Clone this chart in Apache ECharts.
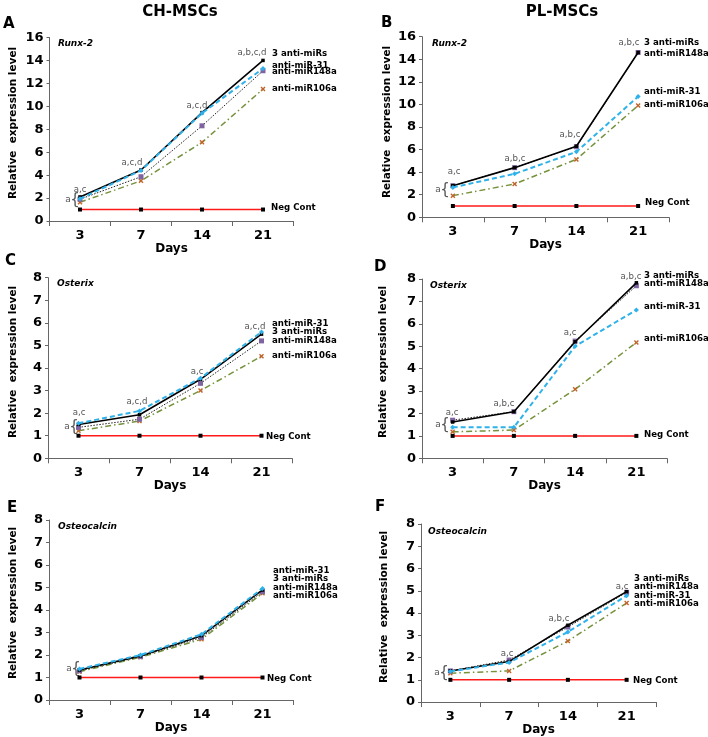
<!DOCTYPE html>
<html><head><meta charset="utf-8">
<script src="https://cdn.jsdelivr.net/npm/echarts@6/dist/echarts.min.js"></script>
<style>html,body{margin:0;padding:0;background:#fff}#c{width:708px;height:737px}</style>
</head><body><div id="c"></div>
<script>
// ---- data ----
const days = ['3', '7', '14', '21'];
const seriesNames = ['Neg Cont', 'anti-miR106a', 'anti-miR148a', '3 anti-miRs', 'anti-miR-31'];

// Panel A: CH-MSCs Runx-2
const A_neg = [1, 1, 1, 1];
const A_three = [2.1, 4.45, 9.45, 14.0];
const A_m31 = [1.95, 4.4, 9.4, 13.3];
const A_m148 = [1.9, 3.86, 8.3, 13.1];
const A_m106 = [1.63, 3.5, 6.86, 11.5];
// Panel B: PL-MSCs Runx-2
const B_neg = [1, 1, 1, 1];
const B_three = [2.8, 4.4, 6.3, 14.6];
const B_m31 = [2.65, 3.85, 5.8, 10.7];
const B_m148 = [2.8, 4.4, 6.25, 14.6];
const B_m106 = [1.92, 2.95, 5.13, 9.9];
// Panel C: CH-MSCs Osterix
const C_neg = [1, 1, 1, 1];
const C_three = [1.5, 1.93, 3.5, 5.5];
const C_m31 = [1.55, 2.1, 3.55, 5.6];
const C_m148 = [1.37, 1.73, 3.32, 5.2];
const C_m106 = [1.22, 1.65, 3.0, 4.52];
// Panel D: PL-MSCs Osterix
const D_neg = [1, 1, 1, 1];
const D_three = [1.62, 2.08, 5.2, 7.83];
const D_m31 = [1.38, 1.38, 5.0, 6.62];
const D_m148 = [1.7, 2.08, 5.23, 7.7];
const D_m106 = [1.18, 1.26, 3.08, 5.17];
// Panel E: CH-MSCs Osteocalcin
const E_neg = [1, 1, 1, 1];
const E_three = [1.33, 1.96, 2.86, 4.89];
const E_m31 = [1.38, 2.0, 2.92, 4.96];
const E_m148 = [1.3, 1.93, 2.78, 4.81];
const E_m106 = [1.26, 1.9, 2.7, 4.74];
// Panel F: PL-MSCs Osteocalcin
const F_neg = [1, 1, 1, 1];
const F_three = [1.4, 1.82, 3.45, 4.96];
const F_m31 = [1.38, 1.78, 3.15, 4.78];
const F_m148 = [1.4, 1.89, 3.37, 4.93];
const F_m106 = [1.3, 1.4, 2.74, 4.45];

const yMax = [16, 16, 8, 8, 8, 8];
const yStep = [2, 2, 1, 1, 1, 1];
const panelLetters = ['A', 'B', 'C', 'D', 'E', 'F'];
const genes = ['Runx-2', 'Runx-2', 'Osterix', 'Osterix', 'Osteocalcin', 'Osteocalcin'];
const columnTitles = ['CH-MSCs', 'PL-MSCs'];
const yTitle = 'Relative  expression level';
const xTitle = 'Days';

// right-side labels (top to bottom) per panel
const A_labels = ['3 anti-miRs', 'anti-miR-31', 'anti-miR148a', 'anti-miR106a'];
const B_labels = ['3 anti-miRs', 'anti-miR148a', 'anti-miR-31', 'anti-miR106a'];
const C_labels = ['anti-miR-31', '3 anti-miRs', 'anti-miR148a', 'anti-miR106a'];
const D_labels = ['3 anti-miRs', 'anti-miR148a', 'anti-miR-31', 'anti-miR106a'];
const E_labels = ['anti-miR-31', '3 anti-miRs', 'anti-miR148a', 'anti-miR106a'];
const F_labels = ['3 anti-miRs', 'anti-miR148a', 'anti-miR-31', 'anti-miR106a'];
// significance annotations per panel (per day)
const A_sig = ['a,c', 'a,c,d', 'a,c,d', 'a,b,c,d'];
const B_sig = ['a,c', 'a,b,c', 'a,b,c', 'a,b,c'];
const C_sig = ['a,c', 'a,c,d', 'a,c', 'a,c,d'];
const D_sig = ['a,c', 'a,b,c', 'a,c', 'a,b,c'];
const E_sig = ['', '', '', ''];
const F_sig = ['', 'a,c', 'a,b,c', 'a,c'];

// ---- layout ----
const panels = [
  {d: [A_neg, A_m106, A_m148, A_three, A_m31], lab: A_labels, sig: A_sig},
  {d: [B_neg, B_m106, B_m148, B_three, B_m31], lab: B_labels, sig: B_sig},
  {d: [C_neg, C_m106, C_m148, C_three, C_m31], lab: C_labels, sig: C_sig},
  {d: [D_neg, D_m106, D_m148, D_three, D_m31], lab: D_labels, sig: D_sig},
  {d: [E_neg, E_m106, E_m148, E_three, E_m31], lab: E_labels, sig: E_sig},
  {d: [F_neg, F_m106, F_m148, F_three, F_m31], lab: F_labels, sig: F_sig}
];
const grids = [
  {left: 49.5, top: 37.5, width: 244, height: 183.5},
  {left: 422, top: 36.7, width: 247, height: 180.6},
  {left: 48, top: 277.7, width: 244, height: 180.6},
  {left: 422, top: 279, width: 245, height: 179.3},
  {left: 49, top: 520, width: 244, height: 180},
  {left: 421, top: 524, width: 235, height: 180.3}
];
const rightLabelPos = [
  {x: 272, ys: [54, 66, 72, 89], nx: 271, ny: 208},
  {x: 644, ys: [43, 54, 92, 105], nx: 645, ny: 203},
  {x: 272, ys: [324, 332, 341, 356], nx: 266, ny: 437},
  {x: 644, ys: [276, 284, 307, 339], nx: 644, ny: 435},
  {x: 273, ys: [571, 579, 588, 596], nx: 267, ny: 679},
  {x: 634, ys: [579, 587, 596, 604], nx: 633, ny: 681}
];
const sigPos = [
  [[80, 190], [132, 163], [197, 106], [252, 53]],
  [[454, 172], [515, 159], [570, 135], [629, 43]],
  [[79, 413], [137, 402], [197, 372], [255, 327]],
  [[452, 413], [504, 404], [570, 333], [631, 277]],
  [[0, 0], [0, 0], [0, 0], [0, 0]],
  [[0, 0], [507, 654], [559, 619], [622, 587]]
];
const bracePos = [[71, 200], [441, 190], [70, 427], [441, 425], [72, 669], [440, 673]];
const letterPos = [[3, 24], [381, 23], [5, 261], [374, 267], [7, 508], [375, 507]];
const genePos = [[58, 44], [432, 44], [57, 284], [430, 286], [58, 527], [428, 532]];
const yTitlePos = [[13, 123], [387, 122], [13, 362], [383, 362], [13, 603], [384, 607]];
const daysY = [245, 241, 483, 482, 725, 728];

const FONT = '"DejaVu Sans", Verdana, sans-serif';
const xSym = 'path://M2,0 L5,3 L8,0 L10,2 L7,5 L10,8 L8,10 L5,7 L2,10 L0,8 L3,5 L0,2 Z';
const styles = [
  {line: {color: '#ff1a1a', width: 1.5, type: 'solid'}, sym: 'rect', size: 4, mc: '#000'},
  {line: {color: '#76923c', width: 1.5, type: [6, 3, 1.5, 3]}, sym: xSym, size: 5, mc: '#c0652a'},
  {line: {color: '#222', width: 1, type: [1.5, 1.5]}, sym: 'rect', size: 5, mc: '#8064a2'},
  {line: {color: '#000', width: 1.6, type: 'solid'}, sym: 'rect', size: 3.5, mc: '#000'},
  {line: {color: '#2fb2ea', width: 2, type: [5, 3]}, sym: 'diamond', size: 5, mc: '#2fb2ea'}
];

const option = {
  animation: false,
  backgroundColor: '#fff',
  grid: grids.map(g => Object.assign({containLabel: false}, g)),
  xAxis: grids.map((g, i) => ({
    gridIndex: i, type: 'category', data: days, boundaryGap: true,
    axisLine: {lineStyle: {color: '#666', width: 1}},
    axisTick: {show: true, interval: 0, length: 5, lineStyle: {color: '#666'}},
    axisLabel: {color: '#000', fontFamily: FONT, fontWeight: 'bold', fontSize: 13, margin: 8},
    name: xTitle, nameLocation: 'middle', nameGap: daysY[i] - (g.top + g.height),
    nameTextStyle: {color: '#000', fontFamily: FONT, fontWeight: 'bold', fontSize: 12, verticalAlign: 'middle'},
    splitLine: {show: false}
  })),
  yAxis: grids.map((g, i) => ({
    gridIndex: i, type: 'value', min: 0, max: yMax[i], interval: yStep[i],
    axisLine: {show: true, lineStyle: {color: '#666', width: 1}},
    axisTick: {show: true, length: 3, lineStyle: {color: '#666'}},
    axisLabel: {color: '#000', fontFamily: FONT, fontWeight: 'bold', fontSize: 13, margin: 6},
    splitLine: {show: false}
  })),
  series: [],
  graphic: []
};

panels.forEach((p, i) => {
  p.d.forEach((arr, k) => {
    const s = styles[k];
    option.series.push({
      type: 'line', name: seriesNames[k], xAxisIndex: i, yAxisIndex: i, data: arr,
      symbol: s.sym, symbolSize: s.size, showSymbol: true,
      itemStyle: {color: s.mc, borderWidth: 0},
      lineStyle: s.line, z: 2 + k
    });
  });
  const G = option.graphic;
  const rp = rightLabelPos[i];
  p.lab.forEach((t, j) => {
    G.push({type: 'text', x: rp.x, y: rp.ys[j], style: {text: t, font: 'bold 8.6px ' + FONT, fill: '#000', align: 'left', verticalAlign: 'middle'}});
  });
  G.push({type: 'text', x: rp.nx, y: rp.ny, style: {text: seriesNames[0], font: 'bold 8.6px ' + FONT, fill: '#000', align: 'left', verticalAlign: 'middle'}});
  p.sig.forEach((t, j) => {
    if (!t) return;
    G.push({type: 'text', x: sigPos[i][j][0], y: sigPos[i][j][1], style: {text: t, font: '8.6px ' + FONT, fill: '#555', align: 'center', verticalAlign: 'middle'}});
  });
  G.push({type: 'text', x: bracePos[i][0] - 3, y: bracePos[i][1], style: {text: 'a', font: '9px ' + FONT, fill: '#555', align: 'center', verticalAlign: 'middle'}});
  G.push({type: 'text', x: bracePos[i][0] + 4, y: bracePos[i][1], style: {text: '{', font: '15px ' + FONT, fill: '#555', align: 'center', verticalAlign: 'middle'}});
  G.push({type: 'text', x: letterPos[i][0], y: letterPos[i][1], style: {text: panelLetters[i], font: 'bold 15px ' + FONT, fill: '#000', align: 'left', verticalAlign: 'middle'}});
  G.push({type: 'text', x: genePos[i][0], y: genePos[i][1], style: {text: genes[i], font: 'italic bold 9px ' + FONT, fill: '#000', align: 'left', verticalAlign: 'middle'}});
  G.push({type: 'text', x: yTitlePos[i][0], y: yTitlePos[i][1], rotation: Math.PI / 2, style: {text: yTitle, font: 'bold 10.5px ' + FONT, fill: '#000', align: 'center', verticalAlign: 'middle'}});
});
option.graphic.push({type: 'text', x: 180, y: 12, style: {text: columnTitles[0], font: 'bold 15px ' + FONT, fill: '#000', align: 'center', verticalAlign: 'middle'}});
option.graphic.push({type: 'text', x: 562, y: 12, style: {text: columnTitles[1], font: 'bold 15px ' + FONT, fill: '#000', align: 'center', verticalAlign: 'middle'}});

const chart = echarts.init(document.getElementById('c'), null, {renderer: 'canvas'});
chart.setOption(option);
</script></body></html>
